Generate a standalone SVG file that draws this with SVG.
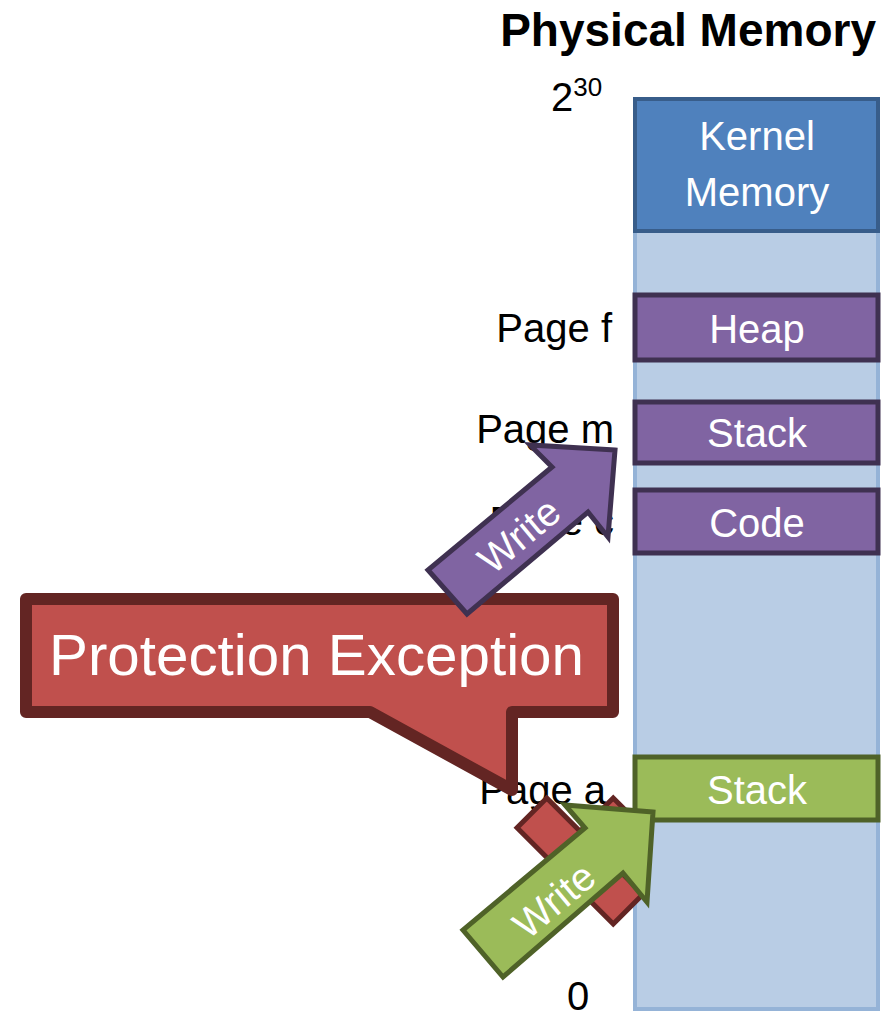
<svg xmlns="http://www.w3.org/2000/svg" width="886" height="1017" viewBox="0 0 886 1017">
  <style>
    .lbl { font-family: "Liberation Sans", Arial, sans-serif; font-size: 40px; fill: #000; }
    .in { font-family: "Liberation Sans", Arial, sans-serif; font-size: 40px; fill: #fff; text-anchor: middle; }
    .title { font-family: "Liberation Sans", Arial, sans-serif; font-size: 46px; font-weight: bold; fill: #000; text-anchor: end; }
    .col { fill: #B9CDE5; stroke: #95B3D7; stroke-width: 4; }
    .kernel { fill: #4F81BD; stroke: #385D8A; stroke-width: 4; }
    .seg { fill: #8064A2; stroke: #3F3151; stroke-width: 5; }
    .seg-ok { fill: #9BBB59; stroke: #4F6228; stroke-width: 5; }
    .bad { fill: #C0504D; stroke: #632523; }
  </style>

  <text class="title" x="876" y="46">Physical Memory</text>

  <!-- address labels -->
  <g id="labels">
    <text class="lbl" x="551" y="111">2<tspan font-size="26" dy="-15">30</tspan></text>
    <text class="lbl" x="612" y="342" text-anchor="end">Page f</text>
    <text class="lbl" x="614" y="443" text-anchor="end">Page m</text>
    <text class="lbl" x="614" y="535" text-anchor="end">Page c</text>
    <text class="lbl" x="606" y="804" text-anchor="end">Page a</text>
    <text class="lbl" x="567" y="1010">0</text>
  </g>

  <!-- memory column and its regions -->
  <g id="memory">
    <rect class="col" x="635" y="99" width="243" height="910"/>
  </g>
  <g id="kernel">
    <rect class="kernel" x="635" y="99" width="243" height="132"/>
    <text class="in" x="757" y="150">Kernel</text>
    <text class="in" x="757" y="206">Memory</text>
  </g>
  <g id="heap">
    <rect class="seg" x="635" y="295" width="243" height="65"/>
    <text class="in" x="757" y="343">Heap</text>
  </g>
  <g id="stack-m">
    <rect class="seg" x="635" y="402" width="243" height="61"/>
    <text class="in" x="757" y="447">Stack</text>
  </g>
  <g id="code">
    <rect class="seg" x="635" y="490" width="243" height="63"/>
    <text class="in" x="757" y="537">Code</text>
  </g>
  <g id="stack-a">
    <rect class="seg-ok" x="635" y="757" width="243" height="63"/>
    <text class="in" x="757" y="804">Stack</text>
  </g>

  <!-- error callout -->
  <g id="exception">
    <path class="bad" stroke-width="12" stroke-linejoin="round"
          d="M26 599 H613 V712 H512 V790 L370 712 H26 Z"/>
    <text x="49" y="675" font-family="Liberation Sans, Arial, sans-serif" font-size="58" fill="#fff" textLength="535" lengthAdjust="spacingAndGlyphs">Protection Exception</text>
  </g>

  <!-- connectors: write arrows and the denied mark -->
  <g id="connectors">
    <g id="write-m">
      <polygon class="seg" stroke-width="5" stroke-linejoin="miter"
               points="615,450 530,445 552,467 428,570 467,614 588,512 608,537"/>
      <text class="in" font-size="44" transform="translate(528,546) rotate(-40)">Write</text>
    </g>
    <g id="denied">
      <polygon class="bad" stroke-width="5" transform="translate(580,861) rotate(45)"
               points="-21,-68 21,-68 21,-21 68,-21 68,21 21,21 21,68 -21,68 -21,21 -68,21 -68,-21 -21,-21"/>
    </g>
    <g id="write-a">
      <polygon class="seg-ok" stroke-width="5" stroke-linejoin="miter"
               points="653,812 565,805 585,828 463,930 503,977 623,873 647,902"/>
      <text class="in" font-size="44" transform="translate(563,911) rotate(-40)">Write</text>
    </g>
  </g>
</svg>
